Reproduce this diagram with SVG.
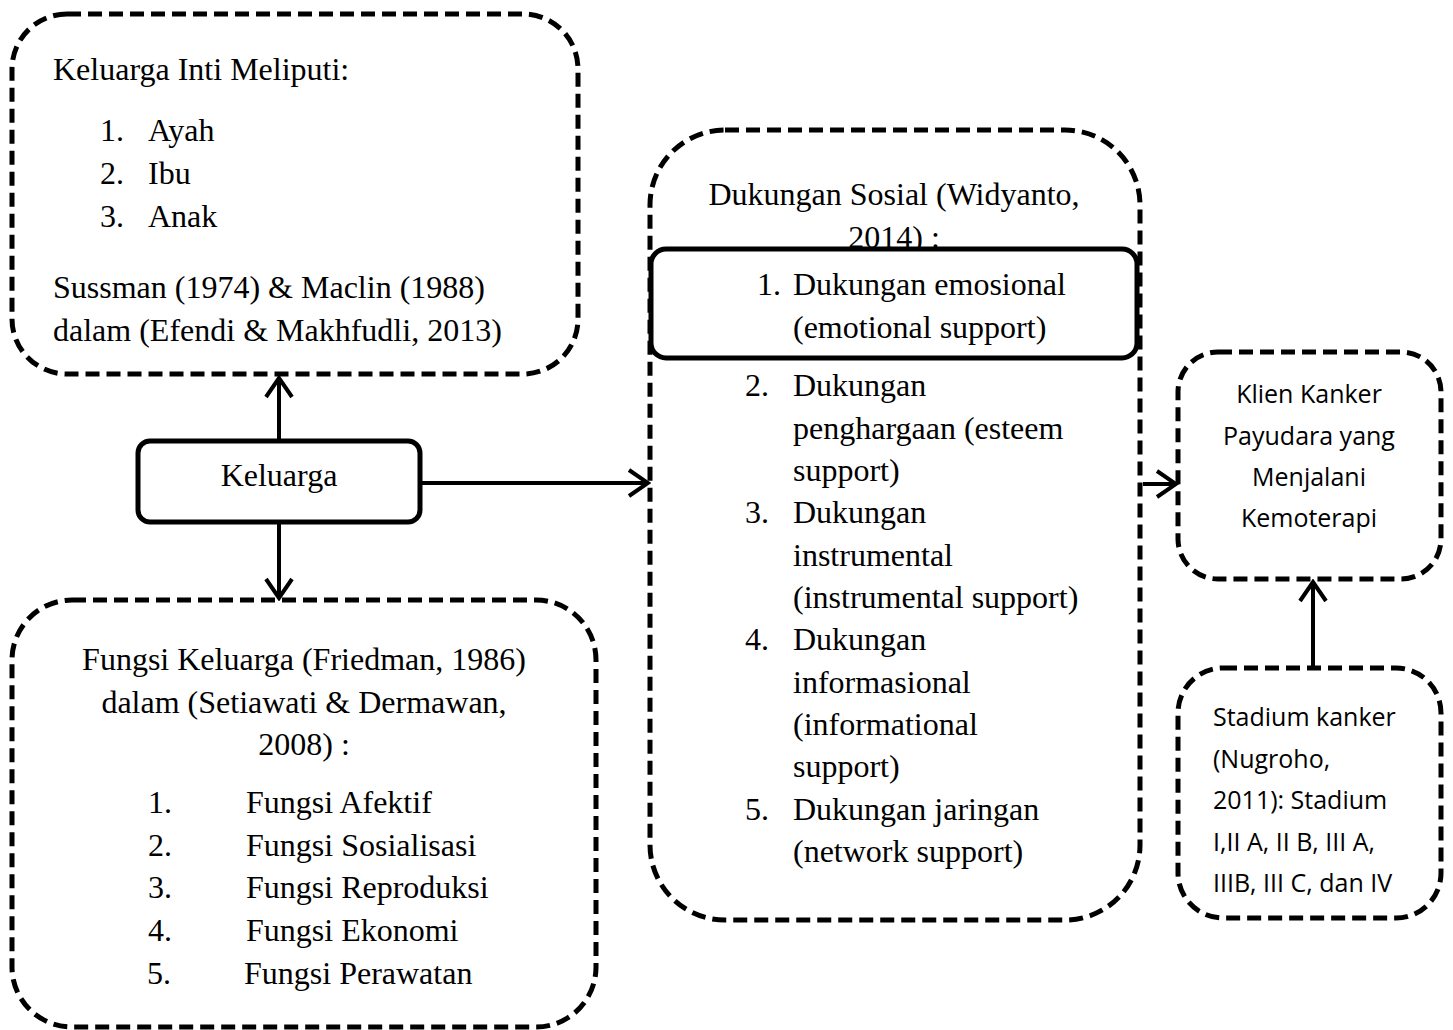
<svg xmlns="http://www.w3.org/2000/svg" width="1453" height="1030" viewBox="0 0 1453 1030">
<style>
.dash{fill:none;stroke:#000;stroke-width:5;stroke-dasharray:14 7}
.solid{fill:#fff;stroke:#000;stroke-width:5}
.t{font-family:"Liberation Serif","Times New Roman",serif;font-size:32px;fill:#000}
.c{text-anchor:middle}
.s{font-family:"Open Sans","Liberation Sans",sans-serif;font-size:25px;fill:#000}
.ln{fill:none;stroke:#000;stroke-width:4}
</style>
<defs>
<marker id="ah" markerWidth="24" markerHeight="30" refX="21" refY="15" orient="auto" markerUnits="userSpaceOnUse">
<path d="M2,2 L21,15 L2,28" fill="none" stroke="#000" stroke-width="4"/>
</marker>
</defs>
<rect width="1453" height="1030" fill="#fff"/>
<g id="connectors">
<line class="ln" x1="279" y1="441" x2="279" y2="378" marker-end="url(#ah)"/>
<line class="ln" x1="279" y1="522" x2="279" y2="598" marker-end="url(#ah)"/>
<line class="ln" x1="420" y1="483" x2="648" y2="483" marker-end="url(#ah)"/>
<line class="ln" x1="1143" y1="484" x2="1176" y2="484" marker-end="url(#ah)"/>
<line class="ln" x1="1313" y1="668" x2="1313" y2="582" marker-end="url(#ah)"/>
</g>
<g id="keluarga-inti">
<rect class="dash" x="12" y="14" width="566" height="360" rx="55"/>
<text class="t" x="53" y="80">Keluarga Inti Meliputi:</text>
<text class="t" x="100" y="141">1.</text><text class="t" x="148" y="141">Ayah</text>
<text class="t" x="100" y="184">2.</text><text class="t" x="148" y="184">Ibu</text>
<text class="t" x="100" y="227">3.</text><text class="t" x="148" y="227">Anak</text>
<text class="t" x="53" y="298">Sussman (1974) &amp; Maclin (1988)</text>
<text class="t" x="53" y="341">dalam (Efendi &amp; Makhfudli, 2013)</text>
</g>
<g id="keluarga">
<rect class="solid" x="138" y="441" width="282" height="81" rx="12"/>
<text class="t c" x="279" y="486">Keluarga</text>
</g>
<g id="fungsi-keluarga">
<rect class="dash" x="12" y="600" width="584" height="427" rx="60"/>
<text class="t c" x="304" y="670">Fungsi Keluarga (Friedman, 1986)</text>
<text class="t c" x="304" y="713">dalam (Setiawati &amp; Dermawan,</text>
<text class="t c" x="304" y="755">2008) :</text>
<text class="t" x="148" y="813">1.</text><text class="t" x="246" y="813">Fungsi Afektif</text>
<text class="t" x="148" y="856">2.</text><text class="t" x="246" y="856">Fungsi Sosialisasi</text>
<text class="t" x="148" y="898">3.</text><text class="t" x="246" y="898">Fungsi Reproduksi</text>
<text class="t" x="148" y="941">4.</text><text class="t" x="246" y="941">Fungsi Ekonomi</text>
<text class="t" x="147" y="984">5.</text><text class="t" x="244" y="984">Fungsi Perawatan</text>
</g>
<g id="dukungan-sosial">
<rect class="dash" x="650" y="130" width="490" height="790" rx="75"/>
<text class="t c" x="894" y="205">Dukungan Sosial (Widyanto,</text>
<text class="t c" x="894" y="248">2014) :</text>
<rect class="solid" x="651" y="249" width="486" height="109" rx="15"/>
<text class="t" x="757" y="295">1.</text><text class="t" x="793" y="295">Dukungan emosional</text>
<text class="t" x="793" y="338">(emotional support)</text>
<text class="t" x="745" y="396">2.</text><text class="t" x="793" y="396">Dukungan</text>
<text class="t" x="793" y="439">penghargaan (esteem</text>
<text class="t" x="793" y="481">support)</text>
<text class="t" x="745" y="523">3.</text><text class="t" x="793" y="523">Dukungan</text>
<text class="t" x="793" y="566">instrumental</text>
<text class="t" x="793" y="608">(instrumental support)</text>
<text class="t" x="745" y="650">4.</text><text class="t" x="793" y="650">Dukungan</text>
<text class="t" x="793" y="693">informasional</text>
<text class="t" x="793" y="735">(informational</text>
<text class="t" x="793" y="777">support)</text>
<text class="t" x="745" y="820">5.</text><text class="t" x="793" y="820">Dukungan jaringan</text>
<text class="t" x="793" y="862">(network support)</text>
</g>
<g id="klien">
<rect class="dash" x="1178" y="352" width="263" height="227" rx="40"/>
<text class="s c" x="1309" y="403">Klien Kanker</text>
<text class="s c" x="1309" y="445">Payudara yang</text>
<text class="s c" x="1309" y="486">Menjalani</text>
<text class="s c" x="1309" y="527">Kemoterapi</text>
</g>
<g id="stadium">
<rect class="dash" x="1178" y="668" width="263" height="250" rx="45"/>
<text class="s" x="1213" y="726">Stadium kanker</text>
<text class="s" x="1213" y="768">(Nugroho,</text>
<text class="s" x="1213" y="809">2011): Stadium</text>
<text class="s" x="1213" y="851">I,II A, II B, III A,</text>
<text class="s" x="1213" y="892">IIIB, III C, dan IV</text>
</g>
</svg>
